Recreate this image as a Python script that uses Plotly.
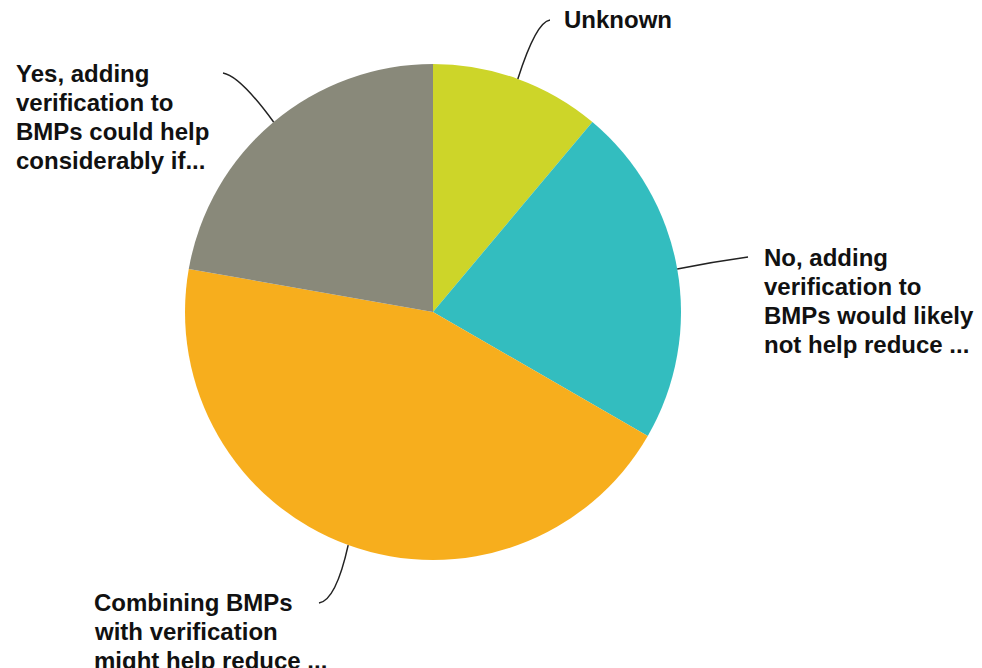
import math
import plotly.graph_objects as go

# Survey responses (counts), listed clockwise from 12 o'clock
categories = [
    "Unknown",
    "No, adding verification to BMPs would likely not help reduce ...",
    "Combining BMPs with verification might help reduce ...",
    "Yes, adding verification to BMPs could help considerably if...",
]
values = [1, 2, 4, 2]
colors = ["#CDD529", "#33BDBF", "#F7AE1D", "#89897A"]

# Wrapped label lines drawn beside each slice
label_lines = [
    ["Unknown"],
    ["No, adding", "verification to", "BMPs would likely", "not help reduce ..."],
    ["Combining BMPs", "with verification", "might help reduce ..."],
    ["Yes, adding", "verification to", "BMPs could help", "considerably if..."],
]

W, H = 982, 668
CX, CY, R = 433, 312, 248          # pie centre and radius in pixels

# Per-label layout: leader-line elbow (control), leader end, text left edge, first baseline
label_layout = [
    dict(ctrl=(536, 22), end=(550, 20), tx=562, ty=31),
    dict(ctrl=(712, 262), end=(748, 257), tx=762, ty=269),
    dict(ctrl=(336, 600), end=(319, 603), tx=92, ty=614),
    dict(ctrl=(240, 76), end=(223, 73), tx=14, ty=85),
]
FONT_SIZE = 24
LINE_STEP = 29

fig = go.Figure(
    go.Pie(
        labels=categories,
        values=values,
        marker=dict(colors=colors, line=dict(width=0)),
        sort=False,
        direction="clockwise",
        rotation=0,
        textinfo="none",
        hoverinfo="label+value+percent",
        domain=dict(
            x=[(CX - R) / W, (CX + R) / W],
            y=[(H - CY - R) / H, (H - CY + R) / H],
        ),
        showlegend=False,
    )
)


def px(x, y):
    return x / W, 1 - y / H


total = sum(values)
shapes = []
annotations = []
cum = 0
for v, lines, lay in zip(values, label_lines, label_layout):
    mid = (cum + v / 2) / total * 2 * math.pi
    cum += v
    sx = CX + R * math.sin(mid)
    sy = CY - R * math.cos(mid)
    p0 = px(sx, sy)
    pc = px(*lay["ctrl"])
    p1 = px(*lay["end"])
    shapes.append(
        dict(
            type="path",
            xref="paper",
            yref="paper",
            path=f"M {p0[0]},{p0[1]} Q {pc[0]},{pc[1]} {p1[0]},{p1[1]}",
            line=dict(color="#222222", width=1.5),
        )
    )
    for i, line in enumerate(lines):
        base = lay["ty"] + i * LINE_STEP
        ax, ay = px(lay["tx"], base + 4)
        annotations.append(
            dict(
                x=ax,
                y=ay,
                xref="paper",
                yref="paper",
                text=f"<b>{line}</b>",
                showarrow=False,
                xanchor="left",
                yanchor="bottom",
                font=dict(family="Liberation Sans, Arial, sans-serif", size=FONT_SIZE, color="#111111"),
            )
        )

fig.update_layout(
    width=W,
    height=H,
    margin=dict(l=0, r=0, t=0, b=0),
    paper_bgcolor="white",
    plot_bgcolor="white",
    shapes=shapes,
    annotations=annotations,
)

fig.write_html("out.html")
